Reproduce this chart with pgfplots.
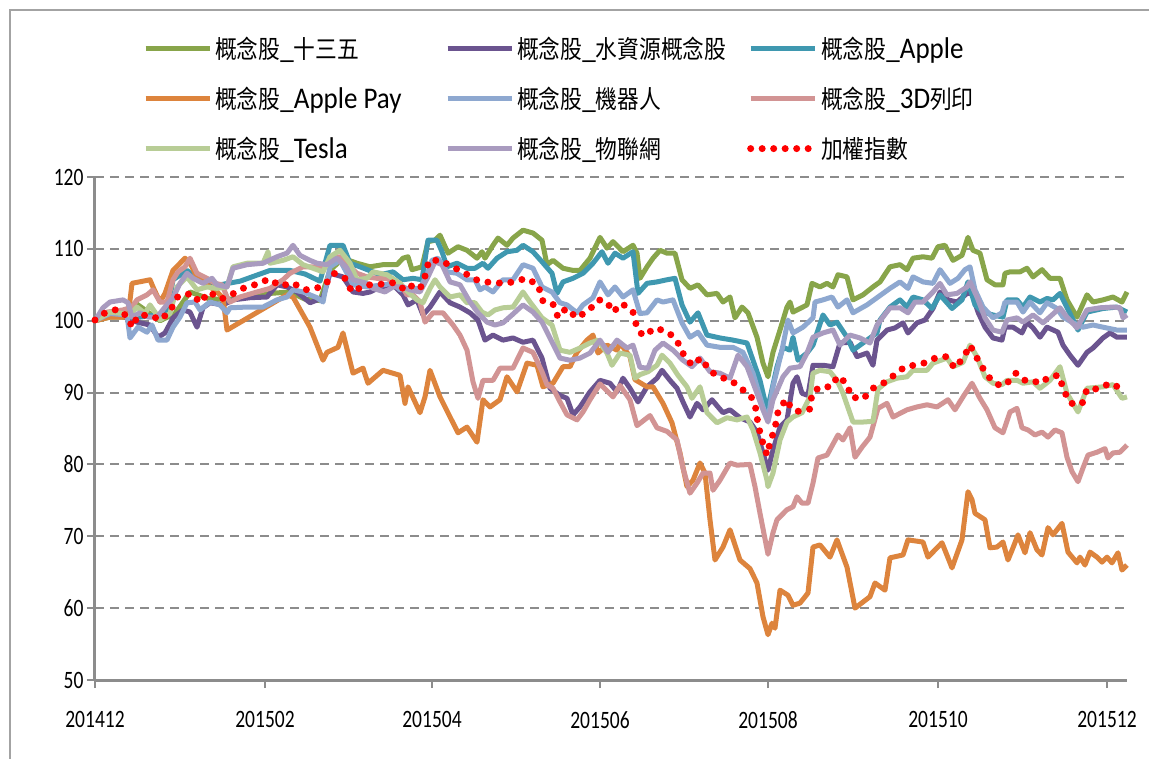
\documentclass[border=0pt]{standalone}
\usepackage{pgfplots}
\pgfplotsset{compat=1.18}
\usepackage{fontspec}
\setmainfont{Carlito}[FakeStretch=0.9]
\newfontfamily\cjk{Noto Sans CJK TC}[FakeStretch=0.87]
\newfontfamily\tickfont{Carlito}[FakeStretch=0.78]
\definecolor{cG}{HTML}{88A54A}
\definecolor{cP}{HTML}{6B548F}
\definecolor{cT}{HTML}{3F98B0}
\definecolor{cO}{HTML}{DD843D}
\definecolor{cB}{HTML}{8EA8D0}
\definecolor{cK}{HTML}{D29494}
\definecolor{cL}{HTML}{B8CD96}
\definecolor{cV}{HTML}{A99BBF}
\definecolor{axgray}{HTML}{8C8C8C}
\newcommand{\cj}[1]{{\cjk\fontsize{25}{30}\selectfont #1}}
\newcommand{\lgd}[1]{\makebox[229pt][l]{\hspace*{1pt}#1}}
\begin{document}
\begin{tikzpicture}[x=1pt,y=1pt]
\path[use as bounding box] (-95,-78) rectangle (1054,680);
\draw[color=axgray!80, line width=2pt] (-85,-85) -- (-85,670) -- (1060,670);
\begin{axis}[
  scale only axis, width=1032pt, height=503pt,
  xmin=0, xmax=258, ymin=50, ymax=120,
  clip=false,
  axis x line*=bottom, axis y line*=left,
  axis line style={line width=3pt, color=axgray},
  xtick={0,42.5,84.25,126.25,168.25,210.75,253},
  xticklabels={201412,201502,201504,201506,201508,201510,201512},
  ytick={50,60,...,120},
  tick align=outside, major tick length=8pt,
  tick style={line width=2pt, color=axgray},
  ymajorgrids,
  major grid style={line width=2pt, color=axgray, dash pattern=on 9pt off 6pt},
  /pgf/number format/assume math mode=true,
  ticklabel style={font=\tickfont\fontsize{25}{30}\selectfont},
  xticklabel style={yshift=-20pt},
  legend columns=3,
  legend cell align=left,
  legend style={draw=none, fill=none, at={(0.0465,1.282)}, anchor=north west,
    font=\fontsize{30}{36}\selectfont, row sep=23pt, inner sep=0pt},
  legend image code/.code={\draw[#1] (0pt,0pt) -- (64pt,0pt);},
  every axis plot/.append style={line width=5pt, line join=round},
]
% 概念股_十三五
\addplot[cG] coordinates {(0,100) (3.75,100.5) (8.25,100.5) (10,102.5) (13.75,101) (16.25,100) (20,101) (23.75,104) (28.75,103) (33.75,103) (41.25,103.5) (43.75,103.8) (48.75,104) (52.5,103) (56.25,102.8) (58.75,107) (62,108.7) (65.5,108) (68.75,107.5) (72,107.8) (75.5,107.8) (77,108.7) (78.25,108.9) (79.25,107.1) (81.75,107.5) (83.25,111.0) (85,111.2) (86.25,111.9) (88.25,109.4) (90.75,110.3) (93,109.8) (95.5,108.7) (96.75,109.6) (97.5,108.7) (99.5,110.5) (100.75,111.5) (103,110.5) (104.5,111.5) (107,112.6) (109.5,112.2) (111.75,111.2) (113,107.8) (114.5,108.4) (117,107.3) (119.5,107.0) (121.25,107.0) (123.75,108.7) (126.25,111.6) (128,110.1) (129.5,111.0) (132,109.6) (134.5,110.5) (135.5,109.4) (136.25,105.9) (138,107.5) (139.5,108.7) (141.25,109.8) (143,109.4) (145,109.4) (146.75,105.7) (148.75,104.5) (150.75,105.0) (153,103.6) (155.5,103.8) (157,102.6) (158.75,103.3) (160,100.4) (161.75,101.9) (163.25,101.1) (165.5,97.7) (167,94.1) (168.25,92.2) (169.5,95.6) (171.25,98.7) (173,101.9) (173.75,102.6) (174.5,101.2) (176.25,101.7) (178,102.2) (179.25,105.2) (181.25,104.7) (183,105.2) (184.5,104.7) (185.75,106.4) (188,106.1) (189.5,102.9) (192,103.6) (194.5,104.7) (196.25,105.4) (198.75,107.5) (201.25,107.8) (203,107.1) (204.5,108.7) (207,108.9) (209.25,108.7) (210.75,110.3) (212.5,110.5) (214.5,108.4) (216.75,109.1) (218.25,111.6) (219.5,109.8) (221.25,109.4) (223,105.7) (225,105.0) (227,105.0) (227.5,106.6) (228.75,106.8) (231.25,106.8) (233,107.3) (234.5,106.1) (236.75,107.1) (238.75,105.9) (241.25,105.9) (243,102.9) (245.5,100.5) (248,103.6) (249.5,102.6) (252,102.9) (254.5,103.3) (256.75,102.6) (258,104.0)};
\addlegendentry{\lgd{\cj{概念股}\_\cj{十三五}}}
% 概念股_水資源概念股
\addplot[cP] coordinates {(0,100) (3.75,101.1) (8,100.4) (10.5,99.8) (13.75,99.4) (15.75,97.7) (17.5,98.3) (19.5,100.4) (22,101.5) (23.75,101.2) (25.5,99.1) (27,101.8) (28.75,102.5) (32,102.2) (34.5,102.9) (38.75,103.2) (43,103.3) (45.5,105.0) (48,104.7) (50.5,104.0) (53.75,102.5) (57,103.2) (58.75,106.6) (62,106.1) (64.5,104.0) (67,103.8) (68.75,104.0) (71.25,104.7) (74.5,105.0) (77,103.6) (78.25,102.2) (80.5,102.9) (82,100.8) (83.75,101.9) (86.25,104.0) (88.75,102.5) (91.25,101.9) (93.75,101.1) (95.75,100.1) (97.5,97.3) (99.5,98.0) (102,97.3) (104.5,97.6) (107,97.0) (109.5,97.3) (111.75,94.8) (113.75,90.6) (116.25,89.6) (118,89.2) (119.5,86.9) (121.25,88.0) (123.75,90.1) (126.25,91.7) (128.75,91.3) (130.5,90.1) (132,92.0) (133.75,90.6) (135.75,88.7) (138,90.8) (140.5,92.0) (141.75,93.1) (143.75,91.7) (145.5,90.6) (147,88.7) (148.75,86.6) (150.5,88.5) (152,87.6) (154.25,89.0) (155.75,88.0) (157,87.2) (158.75,87.6) (161.25,86.5) (163.75,85.9) (165.5,84.5) (167,81.6) (168.25,79.2) (169.5,82.0) (171.25,85.2) (173,86.2) (174.5,91.3) (175.5,92.2) (176.75,89.9) (178.25,89.6) (179.5,93.8) (182,93.8) (184.5,93.6) (186.25,96.9) (188.75,97.0) (190.5,95.0) (193,95.5) (194.5,93.8) (195.5,97.3) (198,98.7) (200,99.0) (202,99.7) (203.25,98.3) (205.5,99.7) (207.5,100.1) (209.5,101.7) (211.25,104.0) (213.25,102.9) (215.5,102.6) (218,103.8) (219.25,103.8) (220.75,101.2) (222.5,99.1) (224.5,97.6) (226.75,97.3) (227.5,99.1) (229.5,99.1) (231.75,98.3) (233,99.8) (234.5,99.0) (236.25,97.7) (238,99.1) (240.75,98.4) (242,96.6) (243.75,95.2) (245.75,93.8) (248,95.6) (249.5,96.2) (252,97.6) (253.75,98.3) (255.5,97.7) (258,97.7)};
\addlegendentry{\lgd{\cj{概念股}\_\cj{水資源概念股}}}
% 概念股_Apple
\addplot[cT] coordinates {(0,100) (3.75,101) (8.25,100.5) (11.25,100.5) (15.5,100.8) (18,101) (19.5,105.7) (23,107.0) (26.25,105.5) (31.25,105) (36.25,105.5) (43.75,107) (48.75,107) (52.5,106.5) (56.25,105.5) (58.75,110.5) (62,110.5) (63.75,108) (66.25,107.5) (71.25,106.4) (74.5,106.8) (77,105.7) (79.5,105.9) (81.75,105.7) (83.25,111.2) (85.5,111.2) (86.75,109.6) (88,107.5) (90.5,108.0) (93,107.3) (95,107.3) (97,108.0) (98.25,107.3) (100.5,108.7) (103,109.6) (105.5,109.8) (107,110.5) (109.5,109.6) (111.75,108.2) (114.25,106.6) (115.5,103.8) (117,105.4) (119.5,105.9) (122,106.6) (124.5,108.0) (126.75,109.6) (128.25,108.0) (130,109.4) (132,108.7) (134.5,109.6) (135.75,103.8) (138,105.2) (140.5,105.4) (143,105.7) (145,105.9) (146.75,102.2) (148.75,99.8) (150.75,101.1) (153,98.0) (156.25,97.6) (159.5,97.3) (163,96.9) (166.25,91.7) (168,87.6) (168.75,89.2) (170.5,93.6) (172,96.3) (173.75,95.9) (174.5,97.7) (175.75,94.5) (178,95.5) (179.5,96.6) (182,100.8) (183.75,99.4) (185.5,99.8) (188,97.7) (189.5,95.9) (193,97.3) (195.5,98.3) (196.25,100.1) (198.75,101.9) (201.25,102.9) (203,101.9) (204.5,103.3) (207,102.9) (209.25,101.7) (211.25,103.6) (214.25,101.7) (216.75,102.9) (218.25,105.4) (220,102.2) (222,101.2) (224.5,100.8) (227,100.5) (228,102.9) (230.5,102.9) (232,101.9) (233.75,103.3) (236.25,102.6) (238,103.1) (239.5,102.9) (241.25,103.8) (243.75,101.0) (245.75,98.7) (248,101.2) (252,101.7) (255.5,101.9) (258,101.2)};
\addlegendentry{\lgd{\cj{概念股}\_Apple}}
% 概念股_Apple Pay
\addplot[cO] coordinates {(0,100) (3.75,100.5) (8.25,100.5) (9.25,105.2) (13.75,105.7) (14.5,104.7) (16.25,102.6) (17.5,103.8) (19.5,107) (22.5,108.7) (23.75,108) (25.5,106.1) (28,105) (30.5,104) (32,103.2) (33,98.7) (48,103.6) (49.5,103.3) (53.75,99.1) (57,94.5) (58,95.6) (60.75,96.3) (62,98.3) (64.5,92.7) (67,93.4) (68.25,91.3) (72,93.1) (76.25,92.4) (77.5,88.5) (78.25,90.8) (81.25,87.2) (82.5,89.4) (83.75,93.1) (86.25,89.4) (90.75,84.4) (93,85.2) (95.5,83.1) (97,89.0) (98.75,88.0) (101.25,89.0) (103,92.2) (105.5,90.1) (108,94.1) (110.5,93.8) (112,90.8) (114.5,91.3) (117,93.6) (118.75,93.6) (120.5,95.6) (123,97.3) (124.5,98.0) (125.75,95.5) (128,96.6) (130.5,95.9) (131.25,96.9) (133.75,95.0) (135,91.8) (138,90.8) (139.5,90.8) (142,88.5) (144.25,85.8) (146.25,81.6) (148,76.9) (149.5,77.8) (151.25,80.2) (152.5,78.8) (153.75,72.3) (155,66.7) (157,68.5) (158.75,70.9) (161.25,66.7) (163.75,65.5) (165.5,63.5) (167,58.8) (168.25,56.3) (169.25,57.9) (170,57.2) (171.25,62.5) (173.25,61.8) (174.5,60.4) (176.25,60.7) (178.25,62.1) (179.5,68.5) (181.25,68.8) (183.75,67.1) (185.5,69.5) (188,65.7) (190,60.0) (193.75,61.6) (195,63.5) (197.5,62.5) (198.75,67.0) (202,67.4) (203.25,69.5) (207,69.2) (208.25,67.1) (211.75,69.1) (214.25,65.6) (216.75,69.5) (218.25,76.2) (219.25,75.1) (220,73.2) (222.5,72.3) (223.75,68.4) (225.5,68.5) (227,69.2) (228.25,66.7) (229.5,68.4) (230.75,70.2) (232.5,67.7) (233.75,70.5) (235.5,68.1) (236.75,67.4) (238.25,71.2) (239.5,70.2) (241.75,71.8) (243.25,67.8) (245.5,66.3) (246.25,67.1) (247.5,66.0) (248.75,67.8) (250.5,67.1) (251.75,66.4) (253,67.1) (254.25,66.3) (255.75,67.7) (256.75,65.3) (258,66.0)};
\addlegendentry{\lgd{\cj{概念股}\_Apple Pay}}
% 概念股_機器人
\addplot[cB] coordinates {(0,100) (3.75,101) (8,100.8) (8.75,97.6) (10.75,99.1) (13,98.4) (14.25,99.4) (15.75,97.3) (18,97.3) (19.5,99.1) (21.25,100.5) (23,102.5) (25,102.6) (26.25,101.5) (28.75,102.6) (31.25,102.2) (33,101.1) (33.75,101.8) (38,101.9) (42,101.9) (45.5,102.9) (48,103.3) (49.5,104.3) (52,104.0) (55.5,103.2) (57,102.6) (58.75,107.5) (61.25,108.4) (63,106.6) (64.5,105.0) (68,104.7) (72,105.0) (74.5,105.2) (76.25,104.3) (78.75,104.5) (81.25,104.5) (83,106.4) (84.25,108.4) (85.75,108.7) (88,106.8) (90.5,106.6) (93,105.7) (95,105.7) (96.25,104.3) (97.5,104.7) (99.5,104.0) (102,105.7) (104.5,105.7) (107,107.8) (109.5,107.3) (111.75,104.7) (114.25,104.0) (116.25,102.5) (118,102.2) (120.5,101.1) (122,102.2) (124.5,103.2) (126.25,105.4) (128.25,103.6) (130,104.7) (132,103.3) (134.5,104.3) (136.25,101) (138,101.1) (140.5,102.9) (142,102.6) (144.5,102.9) (146.75,99.7) (148.75,97.7) (150.75,98.4) (153,96.6) (156.25,96.3) (159.5,96.3) (162,95.6) (164.5,92.7) (167,88.0) (168.25,86.2) (169.5,90.8) (171.75,95.9) (173.25,100.1) (174.5,98.3) (177,99.1) (179.5,100.4) (180,102.6) (182,102.9) (184.25,103.3) (185.75,101.9) (188,102.9) (189.5,101.1) (193,102.2) (195.5,103.2) (198.75,104.5) (201.25,105.4) (203.25,104.5) (204.5,106.1) (207,105.4) (209.5,105.2) (211.25,107.1) (213.75,105.2) (215.75,105.9) (217.5,107.1) (218.75,107.5) (220,104.3) (222,101.9) (224.5,100.4) (226.75,101.1) (227.5,102.6) (230.5,102.6) (232,101.2) (233.75,102.6) (236.25,101.1) (238,102.5) (240.5,101.7) (242,100.5) (244.5,99.7) (247,99.1) (249.5,99.4) (252,99.1) (255.5,98.7) (258,98.7)};
\addlegendentry{\lgd{\cj{概念股}\_\cj{機器人}}}
% 概念股_3D列印
\addplot[cK] coordinates {(0,100) (3,101.2) (7,101.5) (9.25,101.9) (10.5,102.9) (13,103.6) (14.5,104.3) (16.25,102.6) (18,102.6) (19.5,105.7) (20.75,106.8) (22.5,107.5) (23.75,108.7) (25.5,106.6) (28,105.9) (30,105.2) (31.75,105.0) (33,103.3) (33.75,102.6) (36.25,103.3) (40.5,104.0) (43.75,104.5) (47,105.7) (48.75,106.6) (52,107.5) (55.5,107.5) (57,107.3) (59.25,108.9) (62,108.9) (63.75,107.5) (65.5,106.6) (68,106.1) (70.5,105.9) (73,105.9) (74.5,105.4) (76.25,105.2) (78,103.6) (79.5,103.6) (81.25,102.6) (82.5,99.8) (84.5,101.1) (87,101.1) (89.5,99.4) (91.25,98.0) (93,95.9) (94.5,91.5) (95.75,89.2) (97,91.7) (99.5,91.7) (101.25,93.4) (104.5,93.4) (107,96.2) (109.5,95.6) (111.75,92.9) (113,91.1) (114.5,90.6) (116.25,88.7) (118,86.9) (120.5,86.2) (122,87.3) (123.75,89.0) (126.25,91.2) (129.5,89.4) (131.25,91.0) (133.75,89.0) (135.5,85.4) (138.75,86.8) (140.5,85.1) (143,84.6) (145.5,83.4) (147,79.5) (148.75,76.0) (150.5,77.4) (152,78.8) (153.75,78.8) (154.5,76.4) (156.25,77.8) (158.75,80.2) (160.5,79.9) (163.75,80.0) (165,76.9) (166.25,73.2) (168.25,67.5) (169.5,70.5) (170.5,72.3) (173,73.7) (174.5,74.1) (175.5,75.5) (176.75,74.6) (178.25,74.6) (179.5,77.4) (180.75,80.9) (183,81.3) (185.75,84.1) (187,83.4) (188.75,85.1) (190,81.0) (191.75,82.4) (193.75,83.8) (195.75,87.8) (198,88.5) (199.5,86.6) (203,87.6) (205.5,88.0) (208,88.3) (210.5,88.0) (213.25,89.0) (215,87.6) (217,89.4) (219.25,91.3) (221.25,89.2) (223,87.6) (225,85.1) (227,84.4) (228.75,87.3) (230.5,87.8) (231.75,85.1) (233.25,84.8) (235,84.1) (236.75,84.5) (238.25,83.8) (240,84.8) (241.75,84.4) (243,81.0) (244.25,79.0) (245.75,77.6) (247,79.5) (248.25,81.3) (250.5,81.7) (252.5,82.2) (253.25,80.9) (254.5,81.6) (256.25,81.7) (258,82.7)};
\addlegendentry{\lgd{\cj{概念股}\_3D\cj{列印}}}
% 概念股_Tesla
\addplot[cL] coordinates {(0,100) (3.75,101.2) (7,101.0) (8.75,100.8) (10.5,101.9) (12.5,101.0) (13.75,102.2) (15,101.2) (16.25,100.1) (18.75,101.0) (20.5,104.7) (23,106.1) (25.5,104.3) (28,104.7) (30.5,104.5) (33,104.7) (34.5,107.5) (38,108.0) (42,108.0) (43.25,109.6) (43.75,108.0) (47,108.4) (49.5,108.9) (52,107.8) (55.5,107.1) (57,106.8) (58.75,108.9) (61.25,109.8) (63.75,108.0) (65.5,105.7) (68,105.9) (69.5,106.8) (73,106.4) (76.25,105.2) (78.25,104.0) (80.5,102.9) (82,102.5) (83.75,104.5) (85,105.7) (86.25,104.7) (88.75,103.3) (91.25,103.6) (93,102.5) (95,102.5) (96.75,101.2) (98.25,100.8) (100,101.5) (102,101.8) (104.5,101.9) (107,104.0) (108.75,102.6) (111.75,100.4) (114.25,99.4) (116.25,95.9) (118.75,95.6) (121.25,96.2) (123.75,96.9) (125.75,97.3) (128,95.5) (129.25,93.8) (131.25,95.5) (133.75,95.2) (135,92.0) (136.25,92.5) (138.25,92.9) (140.5,93.8) (141.75,95.2) (143.75,94.1) (145.75,92.4) (148,90.8) (149.25,89.2) (151.25,90.8) (153,87.2) (155.5,85.8) (158,86.5) (160.5,86.2) (163,86.6) (164.5,84.8) (166.25,81.6) (168,77.8) (168.25,76.9) (169.5,78.8) (171.25,83.4) (173,85.9) (174.5,86.6) (176.75,87.2) (178.75,89.4) (179.5,92.7) (181.25,93.1) (183.75,92.9) (185.5,91.7) (187,89.9) (189.5,85.9) (192,85.9) (194.5,86.0) (195.75,90.5) (198,91.5) (200.5,92.0) (203,92.2) (204.5,93.1) (208,93.1) (209.5,94.1) (213,94.8) (214.5,93.6) (217,94.2) (218.75,96.6) (220.5,95.0) (222.5,92.2) (224.5,91.3) (226.75,91.1) (228,91.7) (230.5,91.7) (232,91.3) (234.5,91.5) (236.25,90.6) (238.75,91.7) (241.25,93.6) (243,89.9) (245.75,87.3) (248,90.6) (252,90.8) (254.5,91.1) (256.75,89.2) (258,89.4)};
\addlegendentry{\lgd{\cj{概念股}\_Tesla}}
% 概念股_物聯網
\addplot[cV] coordinates {(0,100) (2,101.8) (3.75,102.6) (7,102.9) (8.25,102.5) (9.25,100.5) (11.25,101.1) (13.25,100.5) (15.5,100.5) (17.5,101.9) (19.5,103.2) (21.25,105.2) (23,106.6) (24.5,105.9) (27,105.2) (29.25,105.9) (30.5,105.0) (33,104.7) (34.5,107.3) (38,107.8) (42,108.0) (45.5,108.9) (48,109.4) (49.5,110.5) (51.25,109.1) (53.75,108.4) (55.5,108.0) (58,107.8) (60.5,108.7) (63,107.3) (64.5,105.7) (68,105.2) (69.5,104.5) (72.5,104.0) (74.5,104.7) (77,104.7) (78.75,104.3) (81.25,104.0) (83.25,106.1) (85,108.2) (86.75,107.8) (88.75,105.4) (91.25,105.0) (93.75,102.6) (95.75,101.1) (98,99.8) (100,99.4) (102,99.7) (104.25,100.8) (107,102.2) (109.5,101.2) (111.75,99.8) (113.75,97.6) (116.25,94.8) (118.75,94.5) (121.25,94.8) (123.75,95.5) (126.25,97.3) (128.25,95.6) (130.5,97.3) (133,96.2) (134.5,96.6) (136.25,93.5) (138.25,93.4) (140,95.9) (142,96.9) (144.5,95.9) (147,94.5) (149.25,93.6) (151.25,94.8) (153.75,92.9) (156.25,92.7) (158.75,92.0) (160.75,95.2) (163,93.6) (165.5,89.9) (167,87.6) (168.25,85.9) (169.5,89.0) (172,92.2) (173.75,93.4) (176.25,93.6) (178,95.5) (179.5,97.7) (182,98.3) (184.5,98.7) (186.25,96.6) (188.75,98.0) (191.25,97.6) (193.75,96.9) (195.5,99.4) (198.75,101.8) (201.25,101.8) (203.25,101.1) (205,102.6) (207,102.6) (209.5,104.0) (211.25,105.2) (213,103.6) (215.5,103.8) (218,104.7) (218.75,105.4) (220.5,103.3) (222.5,100.4) (224.5,98.7) (226.75,98.4) (228,100.1) (230.5,100.4) (232,99.8) (234.5,100.8) (237,99.7) (239.25,100.8) (241.25,101.8) (243,100.5) (245.5,99.0) (248,101.5) (251.25,101.8) (254.5,101.9) (256.25,101.8) (257,100.4) (258,100.8)};
\addlegendentry{\lgd{\cj{概念股}\_\cj{物聯網}}}
% 加權指數
\addplot[red, line width=7pt, line cap=round, dash pattern=on 0pt off 11.5pt] coordinates {(0,100.1) (2.75,101.2) (5.75,101.6) (8.25,100.5) (9.25,99.1) (10.75,100.7) (13.5,100.8) (16.5,100.1) (19,101.6) (20.75,103.4) (24.25,103.8) (26.25,102.5) (28.5,104.0) (31.5,103.0) (34,103.6) (37,104.5) (40.5,105.1) (43.5,105.8) (46.5,104.8) (49.25,105.3) (52.5,104.3) (55.25,104.5) (57.5,105.0) (59.75,106.6) (62.5,105.9) (64.25,104.0) (66.75,104.7) (68.75,105.0) (72,105.1) (74.75,105.3) (77.25,104.4) (78.25,105.0) (81.25,104.4) (82.5,106.2) (83.5,108.4) (86.5,108.4) (89.25,107.5) (92,106.8) (94.75,105.8) (97.25,105.4) (100.25,105.3) (102,105.2) (104.75,105.4) (107.75,105.9) (110.75,105.0) (112,102.7) (114.5,102.3) (115.75,100.5) (117.75,101.7) (120.5,100.4) (123.5,101.5) (126,102.9) (128,102.6) (129.5,101.2) (131.75,102.4) (134.5,101.2) (135.5,99.0) (137,97.9) (140.25,99.0) (143.5,98.3) (145.5,97.2) (147.25,95.2) (149.25,93.8) (151.5,94.8) (153.75,93.0) (156,92.2) (159,91.7) (161,90.8) (164,89.5) (165.25,87.7) (165.75,85.6) (166.75,83.4) (168,81.3) (168.75,83.0) (170,85.1) (170.75,87.3) (172.75,89.1) (174.25,87.7) (175.75,87.4) (178.75,87.7) (179.25,89.9) (181.25,90.8) (184,90.8) (185.75,92.3) (188,91.2) (189,89.4) (192,89.1) (194.5,90.6) (197.75,91.5) (199.5,92.3) (202.5,93.6) (204.75,93.8) (208,94.2) (210,94.8) (212.75,95.0) (215,93.4) (217.25,95.0) (218.75,96.6) (220.5,94.8) (222.5,92.9) (224.25,91.6) (226.5,90.9) (228,91.3) (230.25,92.7) (232.75,91.6) (234,91.7) (236.5,91.3) (238.5,92.2) (241,92.4) (242.25,90.2) (244,88.5) (246.75,88.4) (248,90.5) (250.75,90.5) (253.75,91.3) (256.5,90.6) (258,90.2)};
\addlegendentry{\lgd{\cj{加權指數}}}
\end{axis}
\end{tikzpicture}
\end{document}
